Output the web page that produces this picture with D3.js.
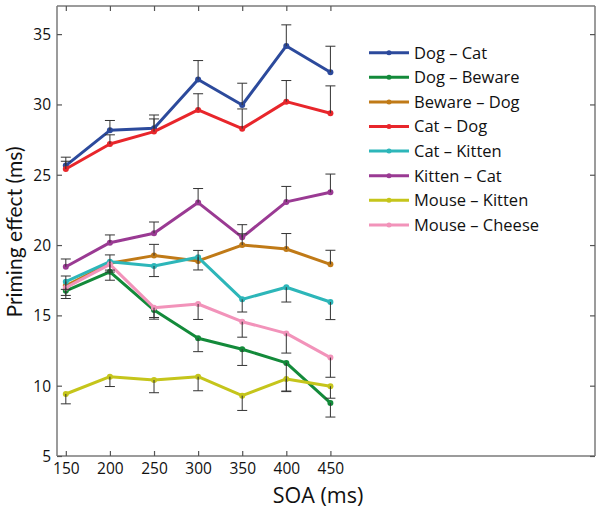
<!DOCTYPE html>
<html>
<head>
<meta charset="utf-8">
<script src="https://cdn.jsdelivr.net/npm/d3@7"></script>
<style>
  html, body { margin: 0; padding: 0; background: #fff; }
  svg { display: block; }
  text { font-family: "Open Sans", "Noto Sans", sans-serif; fill: #111; }
</style>
</head>
<body>
<svg id="chart" width="601" height="509"></svg>
<script>
// ---------- data ----------
const soa = [150, 200, 250, 300, 350, 400, 450];
const seriesNames = ["Dog – Cat", "Dog – Beware", "Beware – Dog", "Cat – Dog", "Cat – Kitten", "Kitten – Cat", "Mouse – Kitten", "Mouse – Cheese"];
const seriesColors = ["#2c4a9c", "#138a3a", "#c07a17", "#e8262b", "#2db6b9", "#9a3a93", "#c5c51b", "#f293ba"];

const dogCat      = [25.65, 28.16, 28.30, 31.77, 29.96, 34.16, 32.29];
const dogBeware   = [16.75, 18.10, 15.38, 13.37, 12.59, 11.62, 8.77];
const bewareDog   = [17.10, 18.70, 19.25, 18.87, 20.00, 19.72, 18.63];
const catDog      = [25.41, 27.19, 28.07, 29.61, 28.28, 30.20, 29.37];
const catKitten   = [17.40, 18.82, 18.51, 19.13, 16.14, 17.00, 15.95];
const kittenCat   = [18.46, 20.17, 20.84, 23.02, 20.55, 23.07, 23.75];
const mouseKitten = [9.41, 10.64, 10.40, 10.64, 9.29, 10.48, 9.96];
const mouseCheese = [16.97, 18.63, 15.55, 15.81, 14.55, 13.72, 12.00];

// one-sided error bar lengths (ms)
const errDogCat      = [0.60, 0.70, 0.95, 1.35, 1.55, 1.50, 1.85];
const errDogBeware   = [0.55, 0.60, 0.65, 0.95, 1.15, 2.00, 1.00];
const errBewareDog   = [0.70, 0.60, 0.80, 0.75, 0.80, 1.10, 1.00];
const errCatDog      = [0.55, 0.65, 0.90, 1.15, 1.40, 1.50, 1.95];
const errCatKitten   = [0.55, 0.60, 0.75, 0.90, 0.90, 1.05, 1.25];
const errKittenCat   = [0.55, 0.55, 0.80, 1.00, 0.90, 1.10, 1.30];
const errMouseKitten = [0.70, 0.70, 0.90, 1.00, 1.05, 0.90, 0.85];
const errMouseCheese = [0.55, 0.55, 0.70, 1.10, 1.10, 1.40, 1.40];

// +1 = bar drawn upward, -1 = downward
const errDirection = [1, -1, 1, 1, -1, 1, -1, -1];

const yTicks = [5, 10, 15, 20, 25, 30, 35];
const xTicks = [150, 200, 250, 300, 350, 400, 450];

const seriesValues = [dogCat, dogBeware, bewareDog, catDog, catKitten, kittenCat, mouseKitten, mouseCheese];
const seriesErrors = [errDogCat, errDogBeware, errBewareDog, errCatDog, errCatKitten, errKittenCat, errMouseKitten, errMouseCheese];

// ---------- layout ----------
const svg = d3.select("#chart");
const plot = { left: 57, right: 595, top: 6, bottom: 456 };

const x = d3.scaleLinear().domain([140, 750]).range([plot.left, plot.right]);
const y = d3.scaleLinear().domain([5, 37]).range([plot.bottom, plot.top]);

const axisColor = "#7a7a7a";

// axes (ticks inward, box on all sides)
const tickLen = 5;
const gx = svg.append("g").attr("transform", `translate(0,${plot.bottom})`)
  .call(d3.axisBottom(x).tickValues(xTicks).tickSize(-tickLen).tickPadding(7).tickFormat(d3.format("d")));
const gxTop = svg.append("g").attr("transform", `translate(0,${plot.top})`)
  .call(d3.axisTop(x).tickValues(xTicks).tickSize(-tickLen).tickFormat(""));
const gy = svg.append("g").attr("transform", `translate(${plot.left},0)`)
  .call(d3.axisLeft(y).tickValues(yTicks).tickSize(-tickLen).tickPadding(6).tickFormat(d3.format("d")));
const gyRight = svg.append("g").attr("transform", `translate(${plot.right},0)`)
  .call(d3.axisRight(y).tickValues(yTicks).tickSize(-tickLen).tickFormat(""));

[gx, gxTop, gy, gyRight].forEach(g => {
  g.select(".domain").attr("stroke", axisColor).attr("stroke-width", 1.5);
  g.selectAll(".tick line").attr("stroke", "#555").attr("stroke-width", 1.2);
  g.selectAll(".tick text").style("font-size", "15.5px").attr("fill", "#111")
    .style("font-family", "'Open Sans', 'Noto Sans', sans-serif");
});
gx.selectAll(".domain").attr("d", `M${plot.left},0H${plot.right}`);
gxTop.selectAll(".domain").attr("d", `M${plot.left},0H${plot.right}`);
gy.selectAll(".domain").attr("d", `M0,${plot.top}V${plot.bottom}`);
gyRight.selectAll(".domain").attr("d", `M0,${plot.top}V${plot.bottom}`);
gy.selectAll(".tick text").attr("dy", "0.35em");

// titles
svg.append("text").attr("x", 318).attr("y", 503).attr("text-anchor", "middle")
  .style("font-size", "21.5px").text("SOA (ms)");
svg.append("text").attr("transform", `translate(22,232) rotate(-90)`).attr("text-anchor", "middle")
  .style("font-size", "21px").style("font-family", "Lato, 'Open Sans', sans-serif").text("Priming effect (ms)");

// lines
const line = d3.line().x((d, i) => x(soa[i])).y(d => y(d));
const seriesG = svg.append("g");
seriesValues.forEach((vals, s) => {
  const g = seriesG.append("g");
  g.append("path").datum(vals).attr("d", line).attr("fill", "none")
    .attr("stroke", seriesColors[s]).attr("stroke-width", 3).attr("stroke-linejoin", "round");
  g.selectAll("circle").data(vals).join("circle")
    .attr("cx", (d, i) => x(soa[i])).attr("cy", d => y(d)).attr("r", 3)
    .attr("fill", seriesColors[s]);
});

// error bars
const errG = svg.append("g").attr("stroke", "#333").attr("stroke-width", 1).attr("fill", "none");
seriesValues.forEach((vals, s) => {
  vals.forEach((v, i) => {
    const e = seriesErrors[s][i] * errDirection[s];
    const cx = x(soa[i]);
    const y0 = y(v), y1 = y(v + e);
    errG.append("line").attr("x1", cx).attr("x2", cx).attr("y1", y0).attr("y2", y1);
    errG.append("line").attr("x1", cx - 5).attr("x2", cx + 5).attr("y1", y1).attr("y2", y1);
  });
});

// legend
const legend = svg.append("g");
seriesNames.forEach((name, s) => {
  const ly = 52.7 + s * 24.6;
  legend.append("line").attr("x1", 369).attr("x2", 409).attr("y1", ly).attr("y2", ly)
    .attr("stroke", seriesColors[s]).attr("stroke-width", 3);
  legend.append("circle").attr("cx", 389).attr("cy", ly).attr("r", 2.5).attr("fill", seriesColors[s]);
  legend.append("text").attr("x", 414).attr("y", ly).attr("dy", "0.36em")
    .style("font-size", "16.5px").text(name);
});
</script>
</body>
</html>
